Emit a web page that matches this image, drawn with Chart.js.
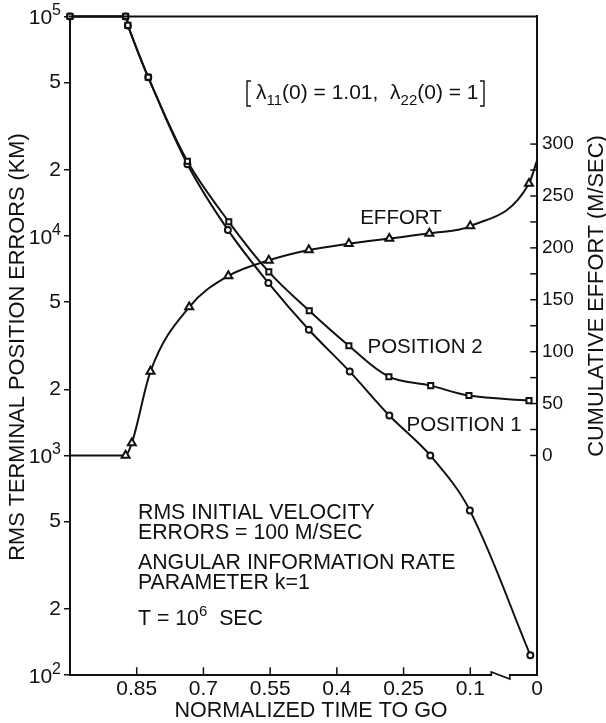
<!DOCTYPE html>
<html>
<head>
<meta charset="utf-8">
<script src="https://cdn.jsdelivr.net/npm/chart.js@4.4.1/dist/chart.umd.min.js"></script>
<style>
  html, body { margin: 0; padding: 0; background: #fff; }
  #wrap { width: 606px; height: 723px; position: relative; }
</style>
</head>
<body>
<div id="wrap"><canvas id="chart"></canvas></div>
<script>
// values (x = normalized time to go, axis units; the
// part right of the break is drawn in the compressed end section)
const position2Time = [1.0, 0.875, 0.870, 0.824, 0.736, 0.643, 0.553, 0.462, 0.373, 0.283, 0.189, 0.103, -0.032];
const position2Km = [100000, 100000, 91000, 52800, 21900, 11600, 6860, 4560, 3160, 2285, 2080, 1875, 1778];

const position1Time = [1.0, 0.875, 0.870, 0.824, 0.736, 0.645, 0.554, 0.463, 0.371, 0.282, 0.190, 0.101, -0.035];
const position1Km = [100000, 100000, 91000, 52800, 21200, 10650, 6110, 3740, 2410, 1520, 1000, 562, 123];

const effortTime = [1.0, 0.875, 0.861, 0.819, 0.732, 0.644, 0.553, 0.463, 0.373, 0.282, 0.192, 0.100, -0.032, -0.05];
const effortMs = [0, 0, 12, 81, 143, 173, 188, 198, 204, 209, 214, 221, 262, 284];
const effortMarker = [0, 1, 1, 1, 1, 1, 1, 1, 1, 1, 1, 1, 1, 0];

const xTicks = [0.85, 0.7, 0.55, 0.4, 0.25, 0.1, -0.05];
const xTickLabels = ['0.85', '0.7', '0.55', '0.4', '0.25', '0.1', '0'];
const xBreak = [0.053, 0.011];

const kmTicks = [100, 200, 500, 1000, 2000, 5000, 10000, 20000, 50000, 100000];
const kmTickLabels = ['', '2', '5', '', '2', '5', '', '2', '5', ''];
const kmPowers = [[100, '2'], [1000, '3'], [10000, '4'], [100000, '5']];

const effortTicks = [0, 25, 50, 75, 100, 125, 150, 175, 200, 225, 250, 275, 300];

const ink = '#111';
const FONT = "'Liberation Sans', Arial, sans-serif";

Chart.defaults.font.family = FONT;
Chart.defaults.font.size = 20;
Chart.defaults.color = ink;

function pts(xs, ys) {
  return xs.map((x, i) => ({ x: x, y: ys[i] }));
}

function line(ctx, x1, y1, x2, y2) {
  ctx.beginPath();
  ctx.moveTo(x1, y1);
  ctx.lineTo(x2, y2);
  ctx.stroke();
}

// text with raised / lowered parts
function richText(ctx, parts, x, y) {
  parts.forEach(p => {
    ctx.font = p[1] + 'px ' + FONT;
    ctx.fillText(p[0], x, y + (p[2] || 0));
    x += ctx.measureText(p[0]).width;
  });
}

function richWidth(ctx, parts) {
  let w = 0;
  parts.forEach(p => {
    ctx.font = p[1] + 'px ' + FONT;
    w += ctx.measureText(p[0]).width;
  });
  return w;
}

const inkPlugin = {
  id: 'ink',
  afterDraw(chart) {
    const ctx = chart.ctx;
    const a = chart.chartArea;
    const xs = chart.scales.x;
    const ys = chart.scales.y;
    const ys2 = chart.scales.y2;
    ctx.save();
    ctx.strokeStyle = ink;
    ctx.fillStyle = ink;
    ctx.lineCap = 'square';

    // top edge of the frame
    ctx.lineWidth = 2;
    line(ctx, a.left, a.top, a.right, a.top);

    // inward tick marks
    ctx.lineWidth = 1.5;
    xTicks.slice(0, -1).forEach(v => {
      const px = xs.getPixelForValue(v);
      line(ctx, px, a.bottom, px, a.bottom - 7);
    });
    effortTicks.forEach(v => {
      const py = ys2.getPixelForValue(v);
      line(ctx, a.right, py, a.right - 6, py);
    });

    // axis break
    const b1 = xs.getPixelForValue(xBreak[0]);
    const b2 = xs.getPixelForValue(xBreak[1]);
    ctx.fillStyle = '#fff';
    ctx.fillRect(b1 + 1, a.bottom - 3, b2 - b1 - 2, 6);
    ctx.fillStyle = ink;
    ctx.lineWidth = 1.6;
    ctx.lineCap = 'butt';
    ctx.beginPath();
    ctx.moveTo(b1, a.bottom);
    ctx.lineTo(b1, a.bottom - 3);
    ctx.lineTo(b2, a.bottom + 4);
    ctx.lineTo(b2, a.bottom);
    ctx.stroke();

    // decade labels on the left axis
    ctx.textAlign = 'left';
    ctx.textBaseline = 'alphabetic';
    kmPowers.forEach(p => {
      const parts = [['10', 21], [p[1], 16, -9]];
      const py = ys.getPixelForValue(p[0]);
      richText(ctx, parts, a.left - 9 - richWidth(ctx, parts), py + 8);
    });

    // labels on the curves
    ctx.font = '20.5px ' + FONT;
    ctx.textBaseline = 'middle';
    ctx.textAlign = 'center';
    ctx.fillText('EFFORT', 401, 218);
    ctx.fillText('POSITION 2', 425, 347);
    ctx.fillText('POSITION 1', 464, 425);

    // notes block
    ctx.font = '21.3px ' + FONT;
    ctx.textAlign = 'left';
    ctx.fillText('RMS INITIAL VELOCITY', 138, 513);
    ctx.fillText('ERRORS = 100 M/SEC', 138, 533);
    ctx.fillText('ANGULAR INFORMATION RATE', 138, 563);
    ctx.fillText('PARAMETER k=1', 138, 583);
    ctx.textBaseline = 'alphabetic';
    richText(ctx, [['T = 10', 21.3], ['6', 15, -9], ['  SEC', 21.3]], 138, 625);

    // bracketed initial values
    richText(ctx, [['λ', 21], ['11', 15, 6], ['(0) = 1.01,  λ', 21], ['22', 15, 6], ['(0) = 1', 21]], 256, 99);
    ctx.lineWidth = 1.4;
    ctx.beginPath();
    ctx.moveTo(251, 81); ctx.lineTo(247, 81); ctx.lineTo(247, 106); ctx.lineTo(251, 106);
    ctx.moveTo(480, 81); ctx.lineTo(484, 81); ctx.lineTo(484, 106); ctx.lineTo(480, 106);
    ctx.stroke();

    // axis titles
    ctx.textAlign = 'center';
    ctx.textBaseline = 'middle';
    ctx.font = '21.5px ' + FONT;
    ctx.fillText('NORMALIZED TIME TO GO', 311, 711);
    ctx.font = '21.8px ' + FONT;
    ctx.save();
    ctx.translate(18, 347);
    ctx.rotate(-Math.PI / 2);
    ctx.fillText('RMS TERMINAL POSITION ERRORS (KM)', 0, 0);
    ctx.restore();
    ctx.save();
    ctx.translate(597, 296);
    ctx.rotate(-Math.PI / 2);
    ctx.fillText('CUMULATIVE EFFORT (M/SEC)', 0, 0);
    ctx.restore();

    ctx.restore();
  }
};

const chart = new Chart(document.getElementById('chart'), {
  type: 'line',
  data: {
    datasets: [{
      label: 'Position 2',
      data: pts(position2Time, position2Km),
      yAxisID: 'y',
      pointStyle: 'rect',
      pointRadius: 3.6,
      borderWidth: 2
    }, {
      label: 'Position 1',
      data: pts(position1Time, position1Km),
      yAxisID: 'y',
      pointStyle: 'circle',
      pointRadius: 3,
      borderWidth: 2
    }, {
      label: 'Effort',
      data: pts(effortTime, effortMs),
      yAxisID: 'y2',
      pointStyle: 'triangle',
      pointRadius: effortMarker.map(m => m * 4.6),
      borderWidth: 2,
      cubicInterpolationMode: 'monotone'
    }]
  },
  options: {
    responsive: true,
    maintainAspectRatio: false,
    animation: false,
    layout: { padding: { top: 15, left: 0, right: 0, bottom: 0 } },
    elements: {
      line: { borderColor: ink, tension: 0.35, fill: false },
      point: { borderColor: ink, backgroundColor: '#fff', borderWidth: 1.3, hoverRadius: 4 }
    },
    datasets: { line: { clip: false } },
    plugins: {
      legend: { display: false },
      tooltip: { enabled: false }
    },
    scales: {
      x: {
        type: 'linear',
        reverse: true,
        min: -0.05,
        max: 1.0,
        afterFit: s => { s.height = 48; },
        afterBuildTicks: s => { s.ticks = xTicks.map(v => ({ value: v })); },
        grid: { display: false },
        border: { display: true, color: ink, width: 2 },
        ticks: {
          autoSkip: false,
          maxRotation: 0,
          padding: -6,
          font: { size: 21 },
          callback: v => xTickLabels[xTicks.indexOf(v)]
        }
      },
      y: {
        type: 'logarithmic',
        position: 'left',
        min: 100,
        max: 100000,
        afterFit: s => { s.width = 70; },
        afterBuildTicks: s => { s.ticks = kmTicks.map(v => ({ value: v })); },
        grid: { display: true, drawOnChartArea: false, drawTicks: true, tickLength: 6, color: ink, lineWidth: 1.5 },
        border: { display: true, color: ink, width: 2 },
        ticks: {
          autoSkip: false,
          padding: 3,
          font: { size: 21 },
          callback: v => kmTickLabels[kmTicks.indexOf(v)]
        }
      },
      y2: {
        type: 'linear',
        position: 'right',
        min: -211.5,
        max: 423,
        afterFit: s => { s.width = 69; },
        afterBuildTicks: s => { s.ticks = effortTicks.map(v => ({ value: v })); },
        grid: { display: false, drawTicks: false, tickLength: 0 },
        border: { display: true, color: ink, width: 2 },
        ticks: {
          autoSkip: false,
          padding: 5,
          font: { size: 19 },
          callback: v => (v % 50 === 0 ? String(v) : '')
        }
      }
    }
  },
  plugins: [inkPlugin]
});
</script>
</body>
</html>
